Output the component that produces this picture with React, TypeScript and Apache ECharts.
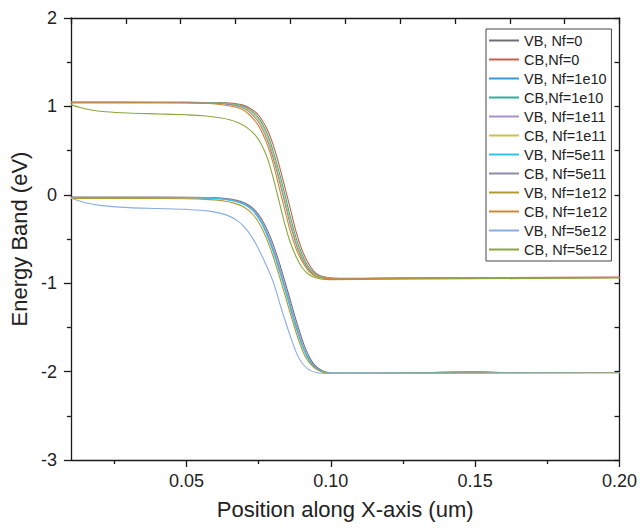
import React, { useEffect, useRef } from "react";
import * as echarts from "echarts";

const seriesNames = [
  "VB, Nf=0",
  "CB,Nf=0",
  "VB, Nf=1e10",
  "CB,Nf=1e10",
  "VB, Nf=1e11",
  "CB, Nf=1e11",
  "VB, Nf=5e11",
  "CB, Nf=5e11",
  "VB, Nf=1e12",
  "CB, Nf=1e12",
  "VB, Nf=5e12",
  "CB, Nf=5e12",
];

const seriesColors = [
  "#6e6e78",
  "#c8604a",
  "#3a9ad0",
  "#2fae9c",
  "#a890c8",
  "#c8c050",
  "#30c4e6",
  "#8c8ca4",
  "#b09a30",
  "#d08830",
  "#8aaee0",
  "#8aa83a",
];

const xMajorTicks = [0.05, 0.1, 0.15, 0.2];
const xMinorTicks = [0.025, 0.075, 0.125, 0.175];

const vb0 = [[0.01,-0.025],[0.03,-0.025],[0.05,-0.027],[0.058,-0.03],[0.063,-0.04],[0.067,-0.06],[0.07,-0.09],[0.073,-0.15],[0.076,-0.27],[0.079,-0.47],[0.082,-0.75],[0.085,-1.08],[0.088,-1.42],[0.091,-1.72],[0.094,-1.91],[0.097,-1.99],[0.1,-2.015],[0.105,-2.02],[0.13,-2.015],[0.16,-2.01],[0.2,-2.01]];
const cb0 = [[0.01,1.045],[0.03,1.045],[0.05,1.045],[0.06,1.043],[0.065,1.038],[0.069,1.02],[0.072,0.98],[0.075,0.9],[0.078,0.74],[0.08,0.57],[0.082,0.35],[0.084,0.1],[0.086,-0.16],[0.088,-0.42],[0.09,-0.62],[0.092,-0.76],[0.094,-0.86],[0.096,-0.91],[0.099,-0.935],[0.103,-0.945],[0.11,-0.945],[0.13,-0.94],[0.16,-0.935],[0.2,-0.93]];
const vb1e10 = [[0.01,-0.03],[0.03,-0.03],[0.05,-0.032],[0.058,-0.036],[0.063,-0.047],[0.067,-0.07],[0.07,-0.105],[0.073,-0.17],[0.076,-0.31],[0.079,-0.53],[0.082,-0.82],[0.085,-1.15],[0.088,-1.49],[0.091,-1.77],[0.094,-1.93],[0.097,-2.0],[0.1,-2.02],[0.105,-2.02],[0.13,-2.015],[0.15,-2.0],[0.16,-2.01],[0.2,-2.01]];
const cb1e10 = [[0.01,1.045],[0.03,1.045],[0.05,1.045],[0.06,1.04],[0.065,1.032],[0.069,1.01],[0.072,0.96],[0.075,0.87],[0.078,0.69],[0.08,0.5],[0.082,0.27],[0.084,0.02],[0.086,-0.25],[0.088,-0.49],[0.09,-0.67],[0.092,-0.8],[0.094,-0.88],[0.096,-0.92],[0.099,-0.94],[0.103,-0.948],[0.12,-0.945],[0.15,-0.94],[0.2,-0.935]];
const vb1e11 = [[0.01,-0.03],[0.03,-0.03],[0.05,-0.031],[0.058,-0.034],[0.063,-0.045],[0.067,-0.068],[0.07,-0.1],[0.073,-0.165],[0.076,-0.3],[0.079,-0.51],[0.082,-0.8],[0.085,-1.13],[0.088,-1.47],[0.091,-1.76],[0.094,-1.93],[0.097,-2.0],[0.1,-2.02],[0.105,-2.02],[0.13,-2.015],[0.16,-2.01],[0.2,-2.01]];
const cb1e11 = [[0.01,1.045],[0.03,1.045],[0.05,1.044],[0.06,1.038],[0.065,1.028],[0.069,1.0],[0.072,0.95],[0.075,0.85],[0.078,0.66],[0.08,0.46],[0.082,0.22],[0.084,-0.04],[0.086,-0.3],[0.088,-0.53],[0.09,-0.7],[0.092,-0.82],[0.094,-0.89],[0.096,-0.925],[0.099,-0.942],[0.103,-0.948],[0.12,-0.945],[0.15,-0.94],[0.2,-0.935]];
const vb5e11 = [[0.01,-0.032],[0.03,-0.032],[0.05,-0.034],[0.058,-0.038],[0.063,-0.05],[0.067,-0.075],[0.07,-0.11],[0.073,-0.18],[0.076,-0.32],[0.079,-0.55],[0.082,-0.84],[0.085,-1.17],[0.088,-1.51],[0.091,-1.78],[0.094,-1.94],[0.097,-2.0],[0.1,-2.02],[0.105,-2.02],[0.13,-2.015],[0.147,-2.0],[0.16,-2.01],[0.2,-2.01]];
const cb5e11 = [[0.01,1.045],[0.03,1.045],[0.05,1.043],[0.06,1.035],[0.065,1.02],[0.069,0.99],[0.072,0.93],[0.075,0.82],[0.078,0.62],[0.08,0.42],[0.082,0.18],[0.084,-0.08],[0.086,-0.34],[0.088,-0.56],[0.09,-0.72],[0.092,-0.83],[0.094,-0.9],[0.096,-0.93],[0.099,-0.945],[0.103,-0.95],[0.12,-0.945],[0.15,-0.94],[0.2,-0.935]];
const vb1e12 = [[0.01,-0.04],[0.03,-0.04],[0.05,-0.045],[0.058,-0.055],[0.063,-0.07],[0.067,-0.1],[0.07,-0.14],[0.073,-0.22],[0.076,-0.37],[0.079,-0.6],[0.082,-0.9],[0.085,-1.23],[0.088,-1.56],[0.091,-1.82],[0.094,-1.95],[0.097,-2.005],[0.1,-2.02],[0.13,-2.015],[0.2,-2.01]];
const cb1e12 = [[0.01,1.04],[0.03,1.04],[0.05,1.038],[0.06,1.028],[0.065,1.005],[0.069,0.97],[0.072,0.9],[0.075,0.78],[0.078,0.57],[0.08,0.36],[0.082,0.1],[0.084,-0.16],[0.086,-0.41],[0.088,-0.61],[0.09,-0.75],[0.092,-0.85],[0.094,-0.91],[0.096,-0.935],[0.099,-0.948],[0.103,-0.952],[0.12,-0.948],[0.15,-0.94],[0.2,-0.935]];
const vb5e12 = [[0.01,-0.04],[0.015,-0.09],[0.02,-0.12],[0.03,-0.145],[0.04,-0.155],[0.05,-0.165],[0.058,-0.185],[0.064,-0.23],[0.068,-0.3],[0.071,-0.4],[0.074,-0.55],[0.077,-0.75],[0.08,-0.98],[0.083,-1.3],[0.086,-1.6],[0.089,-1.85],[0.092,-1.97],[0.095,-2.01],[0.1,-2.02],[0.2,-2.015]];
const cb5e12 = [[0.01,1.02],[0.013,0.99],[0.017,0.96],[0.022,0.94],[0.03,0.925],[0.04,0.915],[0.05,0.905],[0.056,0.895],[0.061,0.875],[0.065,0.85],[0.068,0.815],[0.071,0.76],[0.074,0.67],[0.076,0.57],[0.078,0.42],[0.08,0.2],[0.082,-0.06],[0.084,-0.32],[0.086,-0.54],[0.088,-0.7],[0.09,-0.82],[0.092,-0.89],[0.094,-0.93],[0.097,-0.955],[0.1,-0.96],[0.12,-0.955],[0.15,-0.95],[0.2,-0.94]];

const seriesData = [vb0, cb0, vb1e10, cb1e10, vb1e11, cb1e11, vb5e11, cb5e11, vb1e12, cb1e12, vb5e12, cb5e12];

const FONT = "Liberation Sans, Arial, sans-serif";
const AXIS = "#1a1a1a";

export default function App() {
  const ref = useRef<HTMLDivElement>(null);
  useEffect(() => {
    if (!ref.current) return;
    const chart = echarts.init(ref.current, undefined, { renderer: "svg" });
    chart.setOption({
      animation: false,
      backgroundColor: "#ffffff",
      textStyle: { fontFamily: FONT },
      grid: { left: 70, right: 20, top: 18, bottom: 70 },
      legend: {
        orient: "vertical",
        left: 486,
        top: 29,
        data: seriesNames,
        itemWidth: 30,
        itemHeight: 14,
        itemGap: 4,
        padding: [4, 4, 4, 2],
        borderColor: "#444",
        borderWidth: 1,
        backgroundColor: "#fff",
        itemStyle: { opacity: 0 },
        textStyle: { fontSize: 14.5, lineHeight: 14, color: "#222", fontFamily: FONT },
      },
      xAxis: [
        {
          type: "value",
          min: 0.01,
          max: 0.2,
          position: "bottom",
          axisLine: { show: true, onZero: false, lineStyle: { color: AXIS, width: 1.3 } },
          axisTick: { show: true, inside: false, length: 7, customValues: xMajorTicks, lineStyle: { color: AXIS, width: 1.3 } },
          axisLabel: { customValues: xMajorTicks, formatter: (v: number) => v.toFixed(2), fontSize: 18, color: "#222", margin: 12, fontFamily: FONT },
          splitLine: { show: false },
          name: "Position along X-axis (um)",
          nameLocation: "middle",
          nameGap: 38,
          nameTextStyle: { fontSize: 22, color: "#222", fontFamily: FONT },
        },
        {
          type: "value",
          min: 0.01,
          max: 0.2,
          position: "bottom",
          axisLine: { show: false, onZero: false },
          axisTick: { show: true, inside: false, length: 4, customValues: xMinorTicks, lineStyle: { color: AXIS, width: 1.3 } },
          axisLabel: { show: false },
          splitLine: { show: false },
        },
        {
          type: "value",
          min: 0,
          max: 10,
          interval: 1,
          position: "top",
          axisLine: { show: true, onZero: false, lineStyle: { color: AXIS, width: 1.3 } },
          axisTick: { show: true, inside: true, length: 6, lineStyle: { color: AXIS, width: 1.3 } },
          axisLabel: { show: false },
          splitLine: { show: false },
        },
      ],
      yAxis: [
        {
          type: "value",
          min: -3,
          max: 2,
          interval: 1,
          position: "left",
          axisLine: { show: true, onZero: false, lineStyle: { color: AXIS, width: 1.3 } },
          axisTick: { show: true, inside: false, length: 7, lineStyle: { color: AXIS, width: 1.3 } },
          minorTick: { show: true, splitNumber: 2, length: 4, lineStyle: { color: AXIS, width: 1.3 } },
          axisLabel: { fontSize: 18, color: "#222", margin: 14, fontFamily: FONT },
          splitLine: { show: false },
          name: "Energy Band (eV)",
          nameLocation: "middle",
          nameGap: 36,
          nameTextStyle: { fontSize: 22, color: "#222", fontFamily: FONT },
        },
        {
          type: "value",
          min: -3,
          max: 2,
          interval: 0.5,
          position: "right",
          axisLine: { show: true, onZero: false, lineStyle: { color: AXIS, width: 1.3 } },
          axisTick: { show: true, inside: true, length: 5, lineStyle: { color: AXIS, width: 1.3 } },
          axisLabel: { show: false },
          splitLine: { show: false },
        },
      ],
      series: seriesNames.map((name, i) => ({
        name,
        type: "line",
        xAxisIndex: 0,
        yAxisIndex: 0,
        data: seriesData[i],
        symbol: "none",
        smooth: 0.3,
        color: seriesColors[i],
        lineStyle: { width: 1.1, color: seriesColors[i] },
      })),
    });
    return () => chart.dispose();
  }, []);
  return (
    <div
      ref={ref}
      style={{ position: "fixed", left: 0, top: 0, width: 640, height: 530, background: "#fff" }}
    />
  );
}
